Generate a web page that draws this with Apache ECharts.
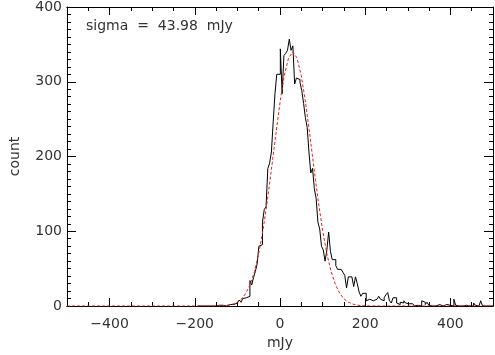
<!DOCTYPE html>
<html>
<head>
<meta charset="utf-8">
<script src="https://cdn.jsdelivr.net/npm/echarts@6.0.0/dist/echarts.min.js"></script>
<style>
  html, body { margin: 0; padding: 0; background: #fff; }
  #chart { width: 495px; height: 355px; }
</style>
</head>
<body>
<div id="chart"></div>
<script>
// histogram: bin centres start at HIST_FIRST_CENTER, one every BIN_WIDTH mJy
var HIST_FIRST_CENTER = -190.3;
var BIN_WIDTH = 4.2;
var histCounts = [
  0, 0, 0, 0, 1, 0, 0, 0, 0,
  0, 0, 1, 0, 1, 1, 0, 1, 2, 1,
  2, 2, 4, 5, 8, 5, 10, 11, 10, 13,
  34, 28, 38, 46, 56, 80, 82, 112, 129, 133,
  184, 191, 206, 246, 284, 310, 310, 344, 284, 335, 338,
  342, 357, 342, 348, 297, 305, 303, 299, 288, 271,
  252, 239, 206, 178, 184, 157, 144, 112, 103, 80,
  75, 60, 75, 99, 73, 62, 62, 54, 49, 49,
  48, 45, 41, 24, 39, 39, 39, 26, 39, 30,
  19, 13, 17, 17, 7, 9, 9, 7, 7, 9,
  9, 13, 9, 7, 11, 15, 18, 7, 4, 11,
  11, 4, 2, 5, 4, 7, 4, 3, 2, 3,
  1, 0, 1, 0, 0, 7, 5, 2, 5, 1,
  0, 1, 0, 2, 2, 1, 0, 2, 2, 2,
  1, 0, 0, 9, 1, 0, 1, 0, 0, 1,
  0, 0, 1, 0, 4, 1, 0, 1, 7, 0,
  0, 0, 0, 0, 0
];

// gaussian fit (red dashed)
var fitX = [-500, -200, -190, -180, -170, -160, -150, -140, -130, -120, -110,
  -100, -90, -80, -70, -60, -50, -40, -30, -20, -10,
  0, 10, 20, 30, 40, 50, 60, 70, 80, 90,
  100, 110, 120, 130, 140, 150, 160, 170, 180, 190,
  200, 210, 220, 230, 240, 500];
var fitY = [0, 0, 0, 0, 0.02, 0.05, 0.11, 0.27, 0.6, 1.3, 2.7,
  5.2, 9.7, 17.2, 28.8, 46, 70, 101.3, 139.7, 183.3, 228.9,
  272.3, 308, 331.7, 340, 331.7, 308, 272.3, 228.9, 183.3, 139.7,
  101.3, 70, 46, 28.8, 17.2, 9.7, 5.2, 2.7, 1.3, 0.6,
  0.27, 0.11, 0.05, 0.02, 0, 0];

var xTickLabels = [-400, -200, 0, 200, 400];
var yTickLabels = [0, 100, 200, 300, 400];
var sigmaText = 'sigma  =  43.98  mJy';

var FONT = 'DejaVu Sans';
var TXT = '#333';

// outline of the histogram: each bin drawn flat across its width
var histData = [];
histCounts.forEach(function (c, i) {
  var mid = HIST_FIRST_CENTER + i * BIN_WIDTH;
  histData.push([mid - BIN_WIDTH / 2, c], [mid + BIN_WIDTH / 2, c]);
});
var fitData = fitX.map(function (x, i) { return [x, fitY[i]]; });

var lineBlack = { color: '#000', width: 1 };

function xMinor(pos) {
  return {
    type: 'value', position: pos, min: -500, max: 500, interval: 50,
    axisLine: { show: true, onZero: false, lineStyle: lineBlack },
    axisTick: { show: true, inside: true, length: 4, lineStyle: lineBlack },
    axisLabel: { show: false },
    splitLine: { show: false }
  };
}
function xMajor(pos, labels) {
  return {
    type: 'value', position: pos, min: -500, max: 500,
    axisLine: { show: true, onZero: false, lineStyle: lineBlack },
    axisTick: { show: true, inside: true, length: 8, lineStyle: lineBlack, customValues: xTickLabels },
    axisLabel: {
      show: labels, customValues: xTickLabels, margin: 11,
      color: TXT, fontFamily: FONT, fontSize: 14,
      formatter: function (v) { return String(v).replace('-', '\u2212'); }
    },
    splitLine: { show: false }
  };
}
function yAx(pos, labels) {
  return {
    type: 'value', position: pos, min: 0, max: 400, interval: 100,
    name: labels ? 'count' : '', nameLocation: 'middle', nameGap: 45,
    nameTextStyle: { color: TXT, fontFamily: FONT, fontSize: 14 },
    axisLine: { show: true, onZero: false, lineStyle: lineBlack },
    axisTick: { show: true, inside: true, length: 9, lineStyle: lineBlack },
    minorTick: { show: true, splitNumber: 10, length: 4, lineStyle: lineBlack },
    axisLabel: { show: labels, margin: 5, color: TXT, fontFamily: FONT, fontSize: 14 },
    splitLine: { show: false },
    minorSplitLine: { show: false }
  };
}

var xm = xMinor('bottom');
xm.name = 'mJy';
xm.nameLocation = 'middle';
xm.nameGap = 30;
xm.nameTextStyle = { color: TXT, fontFamily: FONT, fontSize: 14 };

var chart = echarts.init(document.getElementById('chart'), null, { renderer: 'canvas' });
chart.setOption({
  animation: false,
  backgroundColor: '#fff',
  grid: { left: 57, right: 2, top: 1, bottom: 45 },
  xAxis: [xm, xMajor('bottom', true), xMinor('top'), xMajor('top', false)],
  yAxis: [yAx('left', true), yAx('right', false)],
  graphic: [{
    type: 'text', left: 86, top: 19,
    style: { text: sigmaText, fill: TXT, font: '14px "' + FONT + '"' }
  }],
  series: [{
    type: 'line', xAxisIndex: 0, yAxisIndex: 0,
    data: histData, showSymbol: false, sampling: null,
    lineStyle: { color: '#000', width: 1 }
  }, {
    type: 'line', xAxisIndex: 0, yAxisIndex: 0,
    data: fitData, showSymbol: false,
    lineStyle: { color: '#e8201c', width: 1, type: [3, 2] },
    z: 3
  }]
});
</script>
</body>
</html>
